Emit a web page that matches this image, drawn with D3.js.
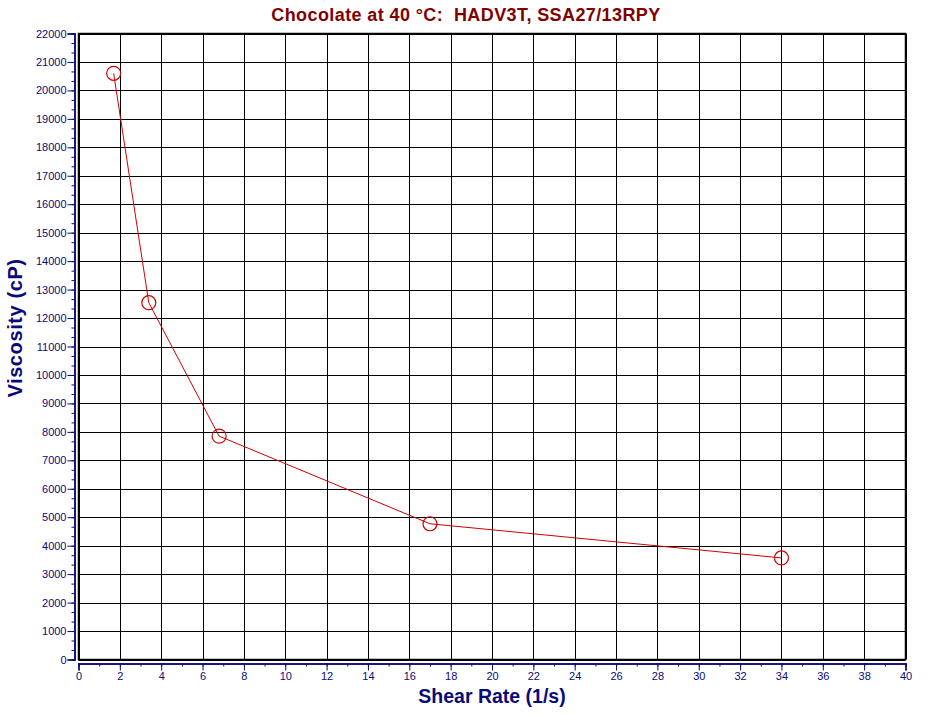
<!DOCTYPE html>
<html><head><meta charset="utf-8">
<script src="https://cdn.jsdelivr.net/npm/d3@7"></script>
<style>body{margin:0;background:#fff}</style>
</head><body>
<svg id="c" width="927" height="714"></svg>
<script>
const shearRate = [1.7, 3.4, 6.8, 17, 34];
const viscosity = [20600, 12540, 7850, 4770, 3570];
const xTicks = [0,2,4,6,8,10,12,14,16,18,20,22,24,26,28,30,32,34,36,38,40];
const yTicks = [0,1000,2000,3000,4000,5000,6000,7000,8000,9000,10000,11000,12000,13000,14000,15000,16000,17000,18000,19000,20000,21000,22000];
const titleText = "Chocolate at 40 \u00B0C:  HADV3T, SSA27/13RPY";
const xLabel = "Shear Rate (1/s)";
const yLabel = "Viscosity (cP)";

const svg = d3.select("#c");
const L = 78.5, R = 905.5, T = 33.5, B = 659.5;
const x = d3.scaleLinear().domain([0, 40]).range([L, R]);
const y = d3.scaleLinear().domain([0, 22000]).range([B, T]);
const navy = "#0a0a78";
const font = "Arial, 'Liberation Sans', sans-serif";

// grid
const g = svg.append("g");
g.selectAll("line.vx").data(xTicks).join("line")
  .attr("x1", d => Math.round(x(d)) + 0.5).attr("x2", d => Math.round(x(d)) + 0.5)
  .attr("y1", T).attr("y2", B).attr("stroke", "#000").attr("stroke-width", 1);
g.selectAll("line.hy").data(yTicks).join("line")
  .attr("y1", d => Math.round(y(d)) + 0.5).attr("y2", d => Math.round(y(d)) + 0.5)
  .attr("x1", L).attr("x2", R).attr("stroke", "#000").attr("stroke-width", 1);
g.append("rect").attr("x", L).attr("y", T).attr("width", R - L).attr("height", B - T)
  .attr("fill", "none").attr("stroke", "#000").attr("stroke-width", 1.5);

// x axis (offset below plot)
const xMinor = d3.range(0, 41, 1);
const xAxisG = svg.append("g").attr("transform", `translate(0,${B + 4})`);
xAxisG.call(d3.axisBottom(x).tickValues(xMinor).tickSize(3).tickFormat(""));
xAxisG.append("g").call(d3.axisBottom(x).tickValues(xTicks).tickSize(7).tickFormat(d3.format("d")));
xAxisG.selectAll("path.domain").attr("stroke", navy).attr("stroke-width", 1.5);
xAxisG.selectAll("line").attr("stroke", navy);
xAxisG.selectAll("text").attr("fill", navy).attr("font-family", font).attr("font-size", 11).attr("dy", "0.7em").attr("y", 9);

// y axis (offset left of plot)
const yMinor = d3.range(0, 22001, 1000 / 3);
const yAxisG = svg.append("g").attr("transform", `translate(${L - 4},0)`);
yAxisG.call(d3.axisLeft(y).tickValues(yMinor).tickSize(3).tickFormat(""));
yAxisG.append("g").call(d3.axisLeft(y).tickValues(yTicks).tickSize(7).tickFormat(d3.format("d")));
yAxisG.selectAll("path.domain").attr("stroke", navy).attr("stroke-width", 1.5);
yAxisG.selectAll("line").attr("stroke", navy);
yAxisG.selectAll("text").attr("fill", navy).attr("font-family", font).attr("font-size", 11).attr("x", -8);

// data
const pts = shearRate.map((s, i) => [s, viscosity[i]]);
const line = d3.line().x(d => x(d[0])).y(d => y(d[1]));
svg.append("path").datum(pts).attr("d", line).attr("fill", "none")
  .attr("stroke", "#d00000").attr("stroke-width", 1);
svg.selectAll("circle.pt").data(pts).join("circle")
  .attr("cx", d => x(d[0])).attr("cy", d => y(d[1])).attr("r", 7)
  .attr("fill", "none").attr("stroke", "#d00000").attr("stroke-width", 1.2);

// titles
svg.append("text").attr("x", 466).attr("y", 21).attr("text-anchor", "middle")
  .style("white-space", "pre").attr("letter-spacing", 0.4)
  .attr("font-family", font).attr("font-weight", "bold").attr("font-size", 18)
  .attr("fill", "#800000").text(titleText);
svg.append("text").attr("x", (L + R) / 2).attr("y", 703).attr("text-anchor", "middle")
  .attr("font-family", font).attr("font-weight", "bold").attr("font-size", 19.5)
  .attr("fill", navy).text(xLabel);
svg.append("text").attr("transform", `translate(22,328) rotate(-90)`).attr("text-anchor", "middle")
  .attr("letter-spacing", 0.6)
  .attr("font-family", font).attr("font-weight", "bold").attr("font-size", 20)
  .attr("fill", navy).text(yLabel);
</script>
</body></html>
